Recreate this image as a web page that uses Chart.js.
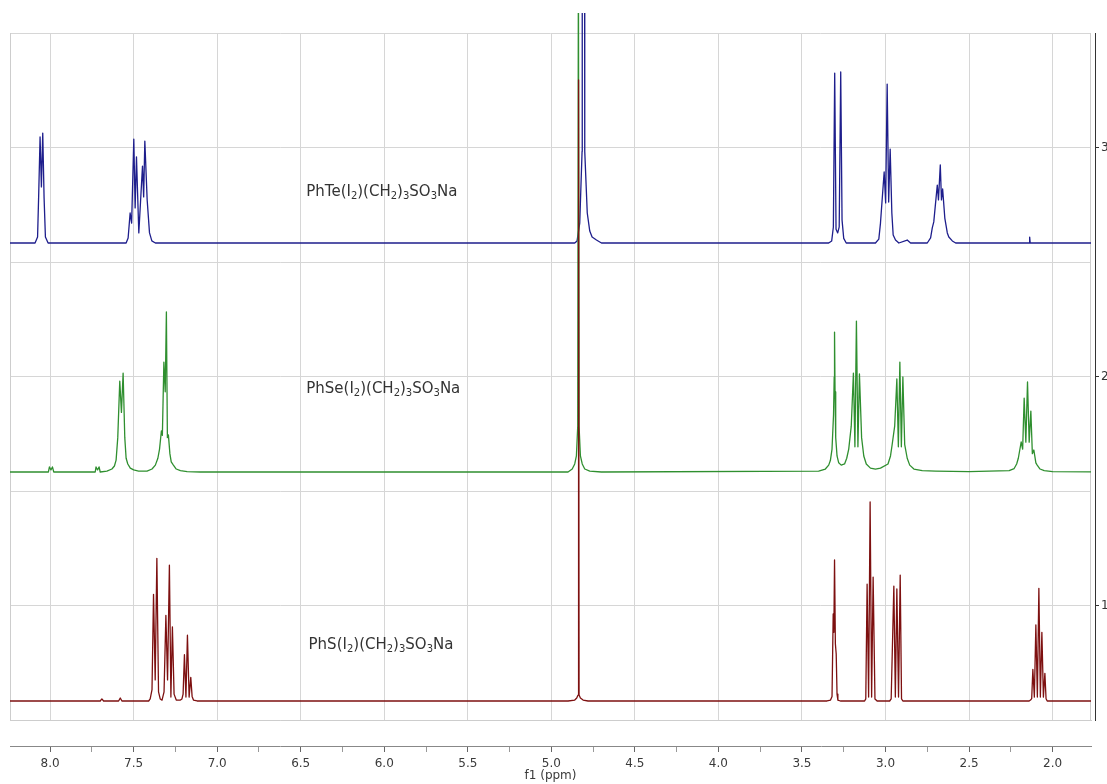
<!DOCTYPE html>
<html>
<head>
<meta charset="utf-8">
<script src="https://cdn.jsdelivr.net/npm/chart.js@4.4.1/dist/chart.umd.min.js"></script>
<style>
  html, body { margin: 0; padding: 0; background: #fff; overflow: hidden; }
</style>
</head>
<body>
<canvas id="nmr" width="1107" height="784"></canvas>
<script>
// stacked 1H spectra, ppm on x, intensity above each trace baseline on y
const teShift = [8.25, 8.09, 8.075, 8.068, 8.060, 8.052, 8.044, 8.036, 8.028, 8.012,
  7.545, 7.533, 7.521, 7.512, 7.499, 7.491, 7.483, 7.469, 7.447, 7.440, 7.433, 7.419, 7.405, 7.391, 7.37,
  4.86, 4.846, 4.83, 4.816, 4.815, 4.801, 4.800, 4.785, 4.77, 4.756, 4.73, 4.70,
  3.34, 3.322, 3.312, 3.304, 3.296, 3.286, 3.277, 3.268, 3.260, 3.250, 3.235,
  3.06, 3.040, 3.030, 3.008, 2.999, 2.990, 2.981, 2.972, 2.962, 2.954, 2.94, 2.92, 2.87, 2.85,
  2.75, 2.730, 2.720, 2.711, 2.690, 2.683, 2.672, 2.665, 2.658, 2.645, 2.630, 2.621, 2.600, 2.58,
  2.140, 2.137, 2.134, 1.76];
const teInt = [0, 0, 0.026, 0.218, 0.463, 0.245, 0.480, 0.197, 0.026, 0,
  0, 0.022, 0.131, 0.087, 0.454, 0.153, 0.376, 0.044, 0.336, 0.201, 0.445, 0.188, 0.044, 0.009, 0,
  0, 0.009, 0.087, 0.4, 1.3, 1.3, 0.4, 0.131, 0.052, 0.026, 0.013, 0,
  0, 0.009, 0.07, 0.742, 0.06, 0.044, 0.07, 0.747, 0.10, 0.02, 0,
  0, 0.017, 0.087, 0.310, 0.175, 0.694, 0.179, 0.410, 0.131, 0.035, 0.013, 0, 0.013, 0,
  0, 0.022, 0.066, 0.092, 0.253, 0.188, 0.341, 0.188, 0.236, 0.109, 0.044, 0.026, 0.009, 0,
  0, 0.026, 0, 0];

const seShift = [8.25, 8.01, 8.004, 7.995, 7.986, 7.978,
  7.73, 7.725, 7.716, 7.707, 7.70,
  7.66, 7.63, 7.615, 7.605, 7.595, 7.583, 7.573, 7.563, 7.553, 7.545, 7.535, 7.52, 7.50, 7.47,
  7.42, 7.39, 7.37, 7.355, 7.345, 7.334, 7.328, 7.319, 7.311, 7.304, 7.298, 7.292, 7.283, 7.275, 7.262, 7.245, 7.22, 7.18, 7.10,
  4.90, 4.875, 4.86, 4.850, 4.842, 4.838, 4.834, 4.826, 4.815, 4.80, 4.77, 4.70,
  3.40, 3.36, 3.34, 3.33, 3.320, 3.311, 3.307, 3.305, 3.302, 3.298, 3.290, 3.280, 3.265, 3.245,
  3.232, 3.220, 3.205, 3.192, 3.183, 3.174, 3.165, 3.156, 3.143, 3.130, 3.115, 3.09, 3.06, 3.03,
  2.985, 2.970, 2.960, 2.945, 2.932, 2.923, 2.914, 2.905, 2.896, 2.885, 2.870, 2.855, 2.83, 2.78, 2.70, 2.50,
  2.26, 2.23, 2.215, 2.205, 2.188, 2.179, 2.170, 2.160, 2.150, 2.140, 2.130, 2.121, 2.112, 2.100, 2.092, 2.075, 2.05, 2.0, 1.76];
const seInt = [0, 0, 0.022, 0.009, 0.022, 0,
  0, 0.022, 0.009, 0.022, 0,
  0.004, 0.013, 0.026, 0.052, 0.15, 0.397, 0.26, 0.432, 0.15, 0.06, 0.035, 0.017, 0.009, 0.004,
  0.004, 0.013, 0.030, 0.06, 0.10, 0.179, 0.16, 0.480, 0.35, 0.699, 0.15, 0.162, 0.08, 0.044, 0.03, 0.013, 0.006, 0.002, 0,
  0, 0.013, 0.035, 0.07, 0.2, 2.3, 0.2, 0.07, 0.035, 0.013, 0.004, 0,
  0.004, 0.013, 0.03, 0.05, 0.10, 0.25, 0.415, 0.611, 0.35, 0.15, 0.07, 0.04, 0.03, 0.035,
  0.06, 0.10, 0.20, 0.432, 0.11, 0.659, 0.11, 0.428, 0.15, 0.07, 0.035, 0.017, 0.013, 0.017,
  0.035, 0.07, 0.12, 0.20, 0.406, 0.11, 0.480, 0.11, 0.415, 0.12, 0.06, 0.03, 0.013, 0.006, 0.004, 0.002,
  0.006, 0.015, 0.035, 0.06, 0.131, 0.10, 0.323, 0.13, 0.393, 0.13, 0.266, 0.08, 0.096, 0.04, 0.03, 0.013, 0.006, 0.002, 0];

const sShift = [8.25, 7.70, 7.69, 7.68, 7.59, 7.58, 7.57,
  7.41, 7.401, 7.390, 7.381, 7.371, 7.361, 7.351, 7.341, 7.330, 7.318, 7.307, 7.297, 7.286, 7.277, 7.268, 7.258, 7.245,
  7.22, 7.211, 7.204, 7.196, 7.187, 7.178, 7.168, 7.158, 7.150, 7.142, 7.12,
  4.90, 4.86, 4.848, 4.840, 4.837, 4.834, 4.826, 4.81, 4.78,
  3.35, 3.329, 3.320, 3.313, 3.309, 3.305, 3.300, 3.295, 3.290, 3.285, 3.27,
  3.125, 3.118, 3.110, 3.101, 3.092, 3.083, 3.074, 3.063, 3.050,
  2.975, 2.966, 2.950, 2.941, 2.932, 2.922, 2.912, 2.904, 2.896,
  2.14, 2.132, 2.125, 2.118, 2.109, 2.100, 2.091, 2.082, 2.073, 2.064, 2.055, 2.046, 2.039, 2.032, 1.76];
const sInt = [0, 0, 0.009, 0, 0, 0.013, 0,
  0, 0.009, 0.05, 0.466, 0.092, 0.623, 0.04, 0.009, 0.004, 0.04, 0.374, 0.092, 0.593, 0.017, 0.324, 0.03, 0.004,
  0.004, 0.009, 0.03, 0.202, 0.017, 0.287, 0.017, 0.103, 0.02, 0.004, 0,
  0, 0.004, 0.013, 0.026, 2.712, 0.026, 0.013, 0.004, 0,
  0, 0.004, 0.02, 0.380, 0.30, 0.616, 0.25, 0.205, 0.03, 0.004, 0,
  0, 0.009, 0.510, 0.017, 0.869, 0.017, 0.541, 0.009, 0,
  0, 0.009, 0.502, 0.017, 0.489, 0.017, 0.550, 0.009, 0,
  0, 0.004, 0.01, 0.138, 0.017, 0.332, 0.017, 0.492, 0.017, 0.300, 0.017, 0.121, 0.01, 0, 0];

const compounds = ['PhS(I2)(CH2)3SO3Na', 'PhSe(I2)(CH2)3SO3Na', 'PhTe(I2)(CH2)3SO3Na'];
const baselines = [0.583, 1.583, 2.583];   // stacking offset of each trace
const xTickLabels = ['8.0', '7.5', '7.0', '6.5', '6.0', '5.5', '5.0', '4.5', '4.0', '3.5', '3.0', '2.5', '2.0'];
const yTickLabels = ['1', '2', '3'];

// where the compound names sit (ppm of left edge, y of text baseline)
const nameAt = [[6.453, 0.810], [6.467, 1.928], [6.467, 2.788]];

function toPoints(shift, inten, base) {
  return shift.map((x, i) => ({ x: x, y: inten[i] + base }));
}

const majors = xTickLabels.map(Number);
const minors = majors.slice(1).map((v, i) => (v + majors[i]) / 2);

const frame = {
  id: 'frame',
  beforeDatasetsDraw(chart) {
    const { ctx, chartArea: a } = chart;
    ctx.save();
    ctx.strokeStyle = '#cdcdcd';
    ctx.lineWidth = 1;
    ctx.beginPath();
    ctx.moveTo(a.left + 0.5, a.top);
    ctx.lineTo(a.left + 0.5, a.bottom);
    ctx.moveTo(a.right - 0.5, a.top);
    ctx.lineTo(a.right - 0.5, a.bottom);
    ctx.stroke();
    ctx.restore();
  }
};

const names = {
  id: 'names',
  afterDatasetsDraw(chart) {
    const { ctx } = chart;
    const xs = chart.scales.x, ys = chart.scales.y;
    ctx.save();
    ctx.fillStyle = '#333';
    ctx.textBaseline = 'alphabetic';
    compounds.forEach((name, k) => {
      let px = xs.getPixelForValue(nameAt[k][0]);
      const py = ys.getPixelForValue(nameAt[k][1]);
      name.split(/(\d+)/).forEach(part => {
        if (!part) return;
        const sub = /^\d+$/.test(part);
        ctx.font = sub ? '10px "DejaVu Sans"' : '15px "DejaVu Sans"';
        ctx.fillText(part, px, py + (sub ? 3 : 0));
        px += ctx.measureText(part).width;
      });
    });
    ctx.restore();
  }
};

const colors = ['#7d1010', '#2f8f2f', '#1e1e8c'];

new Chart(document.getElementById('nmr'), {
  type: 'line',
  data: {
    datasets: [
      { data: toPoints(sShift, sInt, baselines[0]) },
      { data: toPoints(seShift, seInt, baselines[1]) },
      { data: toPoints(teShift, teInt, baselines[2]) }
    ].map((d, i) => Object.assign(d, {
      borderColor: colors[i],
      borderWidth: 1.3,
      pointRadius: 0,
      tension: 0,
      borderJoinStyle: 'round',
      clip: { left: 0, top: 20, right: 0, bottom: 0 }
    }))
  },
  options: {
    responsive: false,
    animation: false,
    devicePixelRatio: 1,
    layout: { padding: { left: 10, top: 33, right: 0, bottom: 0 } },
    plugins: { legend: { display: false }, tooltip: { enabled: false } },
    scales: {
      x: {
        type: 'linear',
        reverse: true,
        min: 1.77,
        max: 8.24,
        position: 'bottom',
        weight: 0,
        afterBuildTicks: s => { s.ticks = majors.map(v => ({ value: v })); },
        afterFit: s => { s.height = 26; },
        ticks: { display: false },
        grid: { color: '#d6d6d6', drawTicks: false },
        border: { display: true, color: '#cdcdcd' }
      },
      x2: {
        type: 'linear',
        reverse: true,
        min: 1.77,
        max: 8.24,
        position: 'bottom',
        weight: 1,
        afterBuildTicks: s => {
          s.ticks = majors.concat(minors).sort((a, b) => b - a).map(v => ({ value: v }));
        },
        afterFit: s => { s.height = 38; },
        ticks: {
          autoSkip: false,
          maxRotation: 0,
          padding: 5,
          color: '#3a3a3a',
          font: { family: 'DejaVu Sans', size: 12 },
          callback: v => {
            const i = majors.indexOf(v);
            return i >= 0 ? xTickLabels[i] : '';
          }
        },
        grid: {
          drawOnChartArea: false,
          tickLength: 6,
          tickColor: c => (majors.indexOf(c.tick && c.tick.value) >= 0 ? '#666' : '#999')
        },
        border: { display: true, color: '#888' },
        title: {
          display: true,
          text: 'f1 (ppm)',
          color: '#3a3a3a',
          font: { family: 'DejaVu Sans', size: 12 },
          padding: { top: 0, bottom: 1 }
        }
      },
      y: {
        type: 'linear',
        position: 'right',
        weight: 0,
        min: 0.5,
        max: 3.5,
        ticks: { display: false, stepSize: 0.5 },
        afterFit: s => { s.width = 4; },
        grid: { color: '#d6d6d6', drawTicks: false },
        border: { display: false }
      },
      y2: {
        type: 'linear',
        position: 'right',
        weight: 1,
        min: 0.5,
        max: 3.5,
        afterBuildTicks: s => { s.ticks = yTickLabels.map(t => ({ value: Number(t) })); },
        afterFit: s => { s.width = 12; },
        ticks: {
          padding: 2,
          color: '#333',
          font: { family: 'DejaVu Sans', size: 12 },
          callback: v => String(v)
        },
        grid: { drawOnChartArea: false, tickLength: 4, tickColor: '#333' },
        border: { display: true, color: '#333' }
      }
    }
  },
  plugins: [frame, names]
});
</script>
</body>
</html>
